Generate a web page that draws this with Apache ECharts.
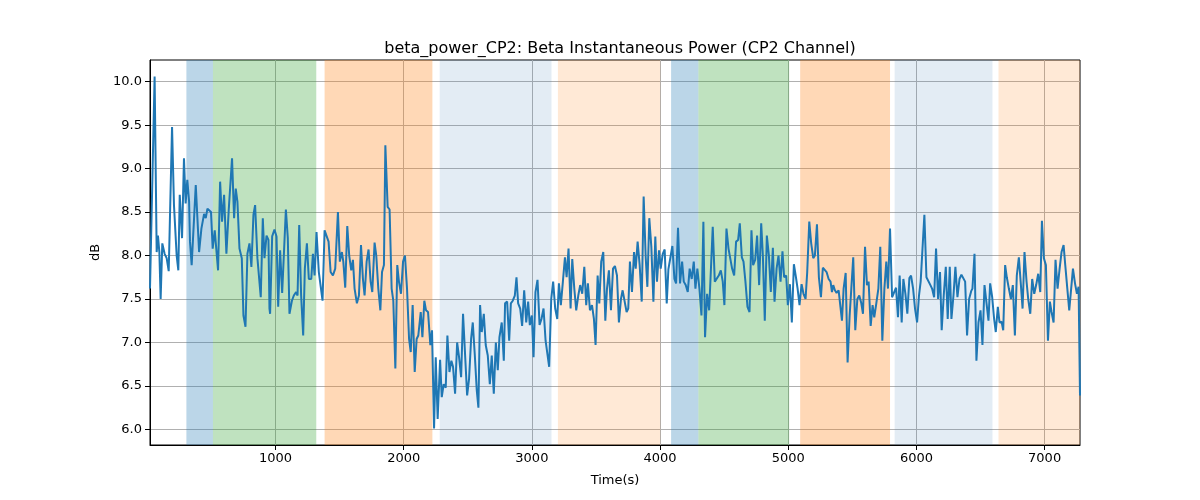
<!DOCTYPE html>
<html>
<head>
<meta charset="utf-8">
<script src="https://cdn.jsdelivr.net/npm/echarts@6/dist/echarts.min.js"></script>
<style>
  html, body { margin: 0; padding: 0; background: #fff; }
  #main { width: 1200px; height: 500px; }
</style>
</head>
<body>
<div id="main"></div>
<script>
// time (s) and beta power (dB)
const times = [
  21, 57, 73, 83, 94, 104, 117, 135, 151, 167, 193, 208, 229, 242, 253, 271, 286, 299, 312, 326,
  333, 346, 378, 404, 422, 443, 456, 469, 484, 497, 510, 526, 552, 568, 583, 599, 617, 635, 646, 661,
  677, 690, 703, 719, 737, 750, 766, 781, 797, 812, 828, 841, 859, 872, 885, 901, 914, 930, 945, 953,
  958, 974, 992, 1008, 1021, 1036, 1052, 1081, 1096, 1109, 1128, 1143, 1161, 1172, 1185, 1200, 1216, 1229, 1245, 1260,
  1279, 1292, 1305, 1320, 1338, 1367, 1383, 1398, 1414, 1430, 1448, 1466, 1487, 1502, 1518, 1529, 1544, 1560, 1575, 1591,
  1604, 1617, 1635, 1651, 1667, 1682, 1695, 1711, 1726, 1742, 1755, 1773, 1786, 1802, 1818, 1831, 1846, 1857, 1875, 1890,
  1906, 1919, 1935, 1950, 1963, 1979, 1995, 2010, 2026, 2042, 2055, 2070, 2086, 2101, 2114, 2133, 2146, 2161, 2174, 2190,
  2208, 2221, 2237, 2250, 2265, 2284, 2297, 2312, 2328, 2341, 2357, 2372, 2385, 2401, 2417, 2432, 2448, 2463, 2476, 2495,
  2510, 2526, 2539, 2555, 2570, 2583, 2596, 2609, 2625, 2640, 2656, 2672, 2687, 2703, 2719, 2734, 2747, 2765, 2781, 2791,
  2807, 2823, 2836, 2851, 2867, 2880, 2893, 2909, 2924, 2940, 2956, 2971, 2984, 3000, 3013, 3028, 3044, 3060, 3075, 3091,
  3107, 3120, 3135, 3151, 3166, 3182, 3198, 3211, 3226, 3242, 3258, 3271, 3286, 3302, 3315, 3331, 3346, 3362, 3377, 3393,
  3409, 3424, 3437, 3453, 3469, 3484, 3497, 3513, 3526, 3541, 3557, 3573, 3586, 3601, 3617, 3633, 3648, 3664, 3679, 3695,
  3708, 3724, 3739, 3752, 3765, 3781, 3797, 3810, 3825, 3841, 3857, 3872, 3888, 3901, 3916, 3932, 3948, 3963, 3976, 3992,
  4005, 4021, 4036, 4052, 4065, 4080, 4096, 4112, 4125, 4140, 4156, 4172, 4185, 4200, 4216, 4231, 4247, 4263, 4276, 4291,
  4307, 4323, 4338, 4351, 4367, 4383, 4411, 4427, 4442, 4458, 4474, 4489, 4502, 4518, 4534, 4549, 4562, 4578, 4593, 4609,
  4622, 4638, 4651, 4666, 4682, 4698, 4713, 4726, 4742, 4757, 4773, 4789, 4802, 4817, 4833, 4849, 4864, 4880, 4893, 4909,
  4924, 4940, 4955, 4968, 4984, 4997, 5013, 5028, 5044, 5060, 5073, 5088, 5104, 5119, 5135, 5148, 5164, 5179, 5195, 5208,
  5224, 5239, 5255, 5270, 5284, 5299, 5315, 5330, 5341, 5351, 5364, 5377, 5393, 5408, 5419, 5432, 5448, 5463, 5479, 5492,
  5507, 5523, 5539, 5554, 5570, 5583, 5599, 5614, 5627, 5643, 5658, 5671, 5687, 5703, 5718, 5734, 5750, 5765, 5778, 5794,
  5810, 5825, 5841, 5856, 5869, 5885, 5898, 5914, 5929, 5945, 5958, 5974, 5989, 6005, 6020, 6033, 6046, 6062, 6078, 6093,
  6109, 6122, 6138, 6153, 6169, 6184, 6197, 6213, 6229, 6244, 6260, 6273, 6289, 6304, 6320, 6336, 6351, 6364, 6380, 6395,
  6411, 6427, 6437, 6453, 6468, 6484, 6500, 6515, 6531, 6546, 6562, 6575, 6591, 6606, 6619, 6635, 6648, 6664, 6677, 6692,
  6705, 6721, 6737, 6752, 6768, 6783, 6799, 6815, 6828, 6843, 6859, 6872, 6888, 6903, 6919, 6934, 6950, 6966, 6979, 6994,
  7010, 7026, 7041, 7054, 7070, 7085, 7101, 7117, 7132, 7148, 7161, 7177, 7192, 7205, 7221, 7237, 7252, 7265, 7276
];
const db = [
  7.62, 10.06, 8.04, 8.23, 8.04, 7.50, 8.14, 8.02, 7.97, 7.82, 9.48, 8.58, 8.00, 7.83, 8.70, 8.20, 9.12, 8.60, 8.87, 8.62,
  8.16, 7.89, 8.81, 8.04, 8.31, 8.48, 8.43, 8.54, 8.54, 8.50, 8.08, 8.29, 7.83, 8.85, 8.39, 8.70, 8.02, 8.52, 8.54, 9.12,
  8.43, 8.77, 8.62, 8.08, 7.97, 7.31, 7.18, 8.02, 8.14, 7.87, 8.47, 8.58, 7.97, 7.96, 7.52, 8.43, 7.97, 8.23, 8.18, 7.39,
  7.33, 8.22, 8.30, 8.22, 7.41, 8.06, 7.57, 8.53, 8.20, 7.33, 7.48, 7.54, 7.58, 7.54, 8.35, 7.54, 7.08, 7.85, 8.14, 7.73,
  7.73, 8.02, 7.77, 8.27, 7.81, 7.48, 8.29, 8.31, 8.16, 7.81, 7.77, 7.85, 8.50, 7.93, 8.04, 7.93, 7.63, 8.34, 8.00, 7.83,
  7.95, 7.62, 7.45, 7.54, 8.12, 7.73, 7.54, 7.93, 8.07, 7.70, 7.58, 8.15, 8.00, 7.62, 7.37, 7.81, 7.89, 9.27, 8.56, 8.53,
  7.62, 7.48, 6.70, 7.89, 7.70, 7.56, 7.93, 8.00, 7.62, 7.04, 6.89, 7.43, 6.66, 7.04, 7.08, 7.35, 7.06, 7.48, 7.37, 7.35,
  6.97, 7.14, 6.01, 6.83, 6.12, 6.80, 6.37, 6.52, 6.48, 7.08, 6.66, 6.79, 6.72, 6.41, 7.00, 6.83, 6.60, 7.33, 7.35, 6.39,
  6.58, 7.04, 7.23, 6.85, 6.45, 6.25, 7.43, 7.12, 7.33, 6.97, 6.85, 6.52, 6.85, 6.41, 7.00, 6.68, 7.06, 7.23, 6.79, 7.45,
  7.47, 7.02, 7.45, 7.48, 7.54, 7.75, 7.45, 7.39, 7.19, 7.60, 7.23, 7.47, 7.20, 7.31, 6.83, 7.58, 7.72, 7.20, 7.27, 7.39,
  7.02, 7.02, 6.72, 7.50, 7.70, 7.39, 7.27, 7.68, 7.43, 7.70, 7.98, 7.75, 8.08, 7.39, 7.96, 7.62, 7.37, 7.54, 7.66, 7.56,
  7.87, 7.43, 7.68, 7.37, 7.43, 7.27, 6.97, 7.77, 7.45, 7.93, 8.04, 7.25, 7.62, 7.83, 7.37, 7.85, 7.88, 7.77, 7.23, 7.50,
  7.60, 7.47, 7.35, 7.39, 7.93, 7.58, 8.04, 7.85, 8.16, 7.89, 7.47, 8.68, 7.98, 7.64, 8.43, 8.10, 7.47, 8.22, 7.70, 8.06,
  7.85, 8.02, 8.07, 7.45, 7.84, 7.86, 8.11, 7.73, 7.68, 8.32, 7.68, 7.93, 7.70, 7.66, 7.58, 7.85, 7.73, 7.93, 7.62, 7.85,
  7.62, 7.31, 8.39, 7.06, 7.56, 7.37, 8.33, 7.70, 7.72, 7.77, 7.83, 7.70, 7.43, 8.31, 8.08, 8.07, 7.85, 7.77, 8.16, 8.18,
  8.37, 7.98, 7.93, 7.70, 7.41, 7.35, 8.29, 7.89, 7.95, 8.23, 7.66, 8.37, 8.00, 7.25, 8.23, 8.00, 7.58, 8.09, 7.47, 7.85,
  8.00, 7.70, 8.05, 7.75, 7.77, 7.43, 7.67, 7.23, 7.90, 7.75, 7.62, 7.43, 7.67, 7.56, 7.50, 7.81, 8.39, 8.14, 7.97, 8.00,
  8.36, 7.75, 7.52, 7.86, 7.87, 7.81, 7.73, 7.70, 7.58, 7.66, 7.60, 7.57, 7.60, 7.62, 7.25, 7.62, 7.80, 6.77, 7.31, 7.62,
  7.98, 7.14, 7.50, 7.54, 7.45, 7.33, 8.10, 7.66, 7.70, 7.19, 7.43, 7.29, 7.45, 7.62, 8.10, 7.02, 7.62, 7.93, 7.62, 8.31,
  7.52, 7.52, 7.63, 7.29, 7.77, 7.23, 7.73, 7.56, 7.33, 7.74, 7.77, 7.62, 7.39, 7.23, 7.54, 7.70, 7.72, 8.47, 7.75, 7.73,
  7.66, 7.62, 7.52, 8.08, 7.50, 7.81, 7.14, 7.54, 7.87, 7.27, 7.87, 7.27, 7.54, 7.87, 7.52, 7.73, 7.78, 7.77, 7.70, 7.08,
  7.50, 7.59, 7.62, 8.02, 6.79, 7.23, 7.37, 6.97, 7.66, 7.67, 7.25, 7.68, 7.52, 7.27, 7.12, 7.41, 7.23, 7.24, 7.14, 7.89,
  7.75, 7.62, 7.50, 7.66, 7.08, 7.77, 7.98, 7.66, 7.39, 8.04, 7.70, 7.50, 7.33, 7.73, 7.56, 7.66, 7.79, 7.58, 8.40, 7.97,
  7.89, 7.02, 7.47, 7.35, 7.23, 7.95, 7.62, 7.85, 8.04, 8.12, 7.89, 7.62, 7.37, 7.39, 7.85, 7.68, 7.56, 7.64, 6.39
];

// shaded segments
const bandStart = [305, 512, 1383, 2281, 3203, 4086, 4299, 5093, 5830, 6640];
const bandEnd = [512, 1318, 2224, 3153, 4002, 4299, 5007, 5794, 6593, 7276];
const bandColor = [
  'rgba(31,119,180,0.3)', 'rgba(44,160,44,0.3)', 'rgba(255,127,14,0.3)', 'rgba(70,130,180,0.15)', 'rgba(255,127,14,0.17)',
  'rgba(31,119,180,0.3)', 'rgba(44,160,44,0.3)', 'rgba(255,127,14,0.3)', 'rgba(70,130,180,0.15)', 'rgba(255,127,14,0.17)'
];

const xTicks = [1000, 2000, 3000, 4000, 5000, 6000, 7000];
const yTicks = [6.0, 6.5, 7.0, 7.5, 8.0, 8.5, 9.0, 9.5, 10.0];

const font = 'DejaVu Sans';
const chart = echarts.init(document.getElementById('main'), null, { renderer: 'canvas' });

const points = times.map((t, i) => [t, db[i]]);
const areas = bandStart.map((s, i) => [
  { xAxis: s, itemStyle: { color: bandColor[i] } },
  { xAxis: bandEnd[i] }
]);

chart.setOption({
  animation: false,
  title: {
    text: 'beta_power_CP2: Beta Instantaneous Power (CP2 Channel)',
    left: 615,
    textAlign: 'center',
    top: 36,
    textStyle: { fontFamily: font, fontSize: 16, fontWeight: 'normal', color: '#000' }
  },
  grid: {
    left: 150, top: 60, width: 930, height: 385,
    show: true, borderColor: '#000', borderWidth: 1, backgroundColor: 'transparent'
  },
  xAxis: {
    type: 'value',
    min: 21,
    max: 7276,
    name: 'Time(s)',
    nameLocation: 'middle',
    nameGap: 29,
    nameTextStyle: { fontFamily: font, fontSize: 13, color: '#000' },
    axisLine: { show: true, onZero: false, lineStyle: { color: '#000' } },
    axisTick: { show: true, length: 5, customValues: xTicks, lineStyle: { color: '#000' } },
    axisLabel: {
      customValues: xTicks, margin: 7, fontFamily: font, fontSize: 13, color: '#000',
      formatter: v => String(v)
    },
    splitLine: { show: true, lineStyle: { color: '#b0b0b0', width: 1 } }
  },
  yAxis: {
    type: 'value',
    min: 5.82,
    max: 10.25,
    name: 'dB',
    nameLocation: 'middle',
    nameGap: 46,
    nameTextStyle: { fontFamily: font, fontSize: 13, color: '#000' },
    axisLine: { show: true, onZero: false, lineStyle: { color: '#000' } },
    axisTick: { show: true, length: 5, customValues: yTicks, lineStyle: { color: '#000' } },
    axisLabel: {
      customValues: yTicks, margin: 8, fontFamily: font, fontSize: 13, color: '#000',
      formatter: v => v.toFixed(1)
    },
    splitLine: { show: true, lineStyle: { color: '#b0b0b0', width: 1 } }
  },
  series: [{
    type: 'line',
    data: points,
    showSymbol: false,
    lineStyle: { color: '#1f77b4', width: 2 },
    markArea: { silent: true, data: areas }
  }]
});
</script>
</body>
</html>
